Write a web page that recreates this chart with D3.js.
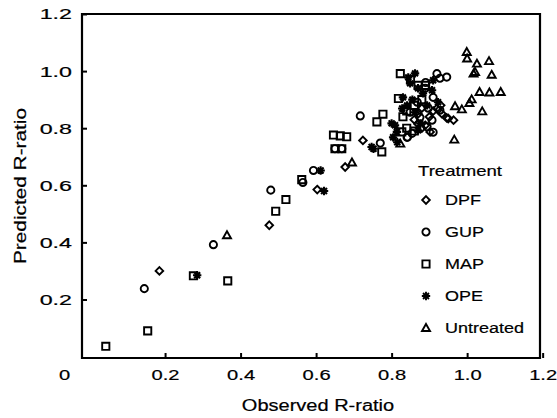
<!DOCTYPE html>
<html>
<head>
<meta charset="utf-8">
<script src="https://cdn.jsdelivr.net/npm/d3@7"></script>
<style>
  body { margin: 0; background: #fff; }
  text { font-family: "Liberation Sans", Arial, sans-serif; fill: #000; stroke: #000; stroke-width: 0.2px; }
</style>
</head>
<body>
<div id="chart"></div>
<script>
// data: [observed, predicted]
var treatments = ["DPF", "GUP", "MAP", "OPE", "Untreated"];

var dpf = [[0.185,0.30],[0.476,0.46],[0.603,0.585],[0.677,0.664],[0.724,0.757],
  [0.88,0.80],[0.902,0.787],[0.889,0.81],[0.86,0.83],[0.87,0.85],[0.90,0.84],
  [0.91,0.86],[0.92,0.869],[0.933,0.851],[0.946,0.836],[0.95,0.834],[0.964,0.828],
  [0.88,0.87],[0.93,0.88],[0.87,0.815]];

var gup = [[0.145,0.238],[0.328,0.392],[0.48,0.583],[0.593,0.652],[0.565,0.61],
  [0.65,0.728],[0.668,0.728],[0.717,0.843],[0.77,0.748],[0.842,0.769],
  [0.92,0.991],[0.946,0.979],[0.928,0.975],[0.889,0.94],[0.91,0.908],[0.897,0.87],
  [0.928,0.863],[0.875,0.838],[0.907,0.828],[0.868,0.891],[0.849,0.856],
  [0.894,0.805],[0.91,0.786],[0.854,0.782],[0.841,0.768],[0.89,0.96]];

var map = [[0.043,0.036],[0.154,0.09],[0.275,0.283],[0.366,0.265],[0.493,0.509],
  [0.52,0.55],[0.562,0.62],[0.646,0.776],[0.664,0.773],[0.681,0.77],[0.65,0.728],
  [0.668,0.728],[0.761,0.822],[0.777,0.849],[0.774,0.717],[0.823,0.991],[0.818,0.904],
  [0.827,0.787],[0.85,0.97],[0.87,0.95],[0.84,0.86],[0.86,0.88],[0.83,0.84],
  [0.88,0.90],[0.86,0.79],[0.84,0.80],[0.89,0.95]];

var ope = [[0.285,0.285],[0.621,0.58],[0.612,0.652],[0.752,0.728],[0.747,0.734],
  [0.80,0.817],[0.814,0.787],[0.862,0.992],[0.844,0.978],[0.849,0.957],[0.830,0.908],
  [0.828,0.869],[0.841,0.880],[0.809,0.810],[0.804,0.768],[0.815,0.751],[0.862,0.856],
  [0.876,0.817],[0.870,0.793],[0.894,0.880],[0.883,0.922],[0.907,0.933],[0.910,0.968],
  [0.923,0.891],[0.855,0.90],[0.87,0.94]];

var untreated = [[0.364,0.425],[0.695,0.68],[0.823,0.746],[0.966,0.76],
  [0.999,1.067],[1.0,1.044],[1.026,1.026],[1.021,0.997],[1.017,0.991],[1.058,1.035],
  [1.065,0.987],[1.033,0.927],[1.059,0.925],[1.089,0.927],[1.012,0.901],[1.006,0.888],
  [0.968,0.877],[0.986,0.866],[1.04,0.859]];

var xTicks = [0.2, 0.4, 0.6, 0.8, 1.0, 1.2];
var yTicks = [0.2, 0.4, 0.6, 0.8, 1.0, 1.2];

var series = [dpf, gup, map, ope, untreated];
var shapes = ["diamond", "circle", "square", "star", "triangle"];

var W = 557, H = 418;
var box = {left: 82, right: 540, top: 14, bottom: 358};

var svg = d3.select("#chart").append("svg")
  .attr("width", W).attr("height", H);

var x = d3.scaleLinear().domain([-0.02, 1.193]).range([box.left, box.right]);
var y = d3.scaleLinear().domain([-0.005, 1.2]).range([box.bottom, box.top]);

// symbol paths, centred on 0,0
function shapePath(t) {
  if (t == "circle") return "M3.6,0A3.6,3.6 0 1,1 -3.6,0A3.6,3.6 0 1,1 3.6,0Z";
  if (t == "square") return "M-3.6,-3.6H3.6V3.6H-3.6Z";
  if (t == "diamond") return "M0,-3.8L3.8,0L0,3.8L-3.8,0Z";
  if (t == "triangle") return "M0,-4L4,3H-4Z";
  // asterisk
  var r = 4.2, d = r * 0.7071;
  return "M0,-" + r + "V" + r + "M-" + r + ",0H" + r +
    "M-" + d + ",-" + d + "L" + d + "," + d + "M-" + d + "," + d + "L" + d + ",-" + d;
}

// frame
svg.append("path")
  .attr("d", "M" + box.left + "," + box.top + "H" + box.right + "V" + box.bottom +
    "H" + box.left + "Z")
  .attr("fill", "none").attr("stroke", "#000").attr("stroke-width", 2.2);

// scanned type is wide
var sx = 1.3, sy = 1.5;

// bottom axis
var xAxis = svg.append("g")
  .attr("transform", "translate(0," + box.bottom + ")")
  .call(d3.axisBottom(x).tickValues(xTicks).tickSize(-5).tickPadding(11)
    .tickFormat(d3.format(".1f")));
xAxis.select(".domain").remove();
xAxis.selectAll("line").attr("stroke-width", 2);
xAxis.selectAll("text").attr("font-size", 15.5).attr("font-family", null)
  .attr("transform", "scale(" + sx + ",1)");

// left axis
var yAxis = svg.append("g")
  .attr("transform", "translate(" + box.left + ",0)")
  .call(d3.axisLeft(y).tickValues(yTicks).tickSize(-5).tickPadding(10 / sy)
    .tickFormat(d3.format(".1f")));
yAxis.select(".domain").remove();
yAxis.selectAll("line").attr("stroke-width", 2);
yAxis.selectAll("text").attr("font-size", 15.5).attr("font-family", null)
  .attr("transform", "scale(" + sy + ",1)");

// origin label
svg.append("text")
  .attr("transform", "translate(" + (x(0) - 25) + "," + (box.bottom + 11) + ") scale(" + sx + ",1)")
  .attr("dy", "0.71em").attr("text-anchor", "middle").attr("font-size", 15.5)
  .text("0");

// axis titles
svg.append("text")
  .attr("transform", "translate(" + ((box.left + box.right) / 2 + 7) + ",411) scale(1.25,1)")
  .attr("text-anchor", "middle").attr("font-size", 16)
  .text("Observed R-ratio");

svg.append("text")
  .attr("transform", "translate(26,186) rotate(-90) scale(1.3,1)")
  .attr("text-anchor", "middle").attr("font-size", 16)
  .text("Predicted R-ratio");

// points
series.forEach(function(data, i) {
  svg.append("g").selectAll("path")
    .data(data)
    .enter().append("path")
      .attr("transform", function(d) { return "translate(" + x(d[0]) + "," + y(d[1]) + ")"; })
      .attr("d", shapePath(shapes[i]))
      .attr("fill", "none")
      .attr("stroke", "#000")
      .attr("stroke-width", shapes[i] == "star" ? 2.1 : 1.9);
});

// legend
var legend = svg.append("g");
legend.append("text")
  .attr("transform", "translate(418,176) scale(1.2,1)")
  .attr("font-size", 15.5)
  .text("Treatment");

var rows = legend.selectAll("g.row")
  .data(treatments)
  .enter().append("g")
    .attr("class", "row")
    .attr("transform", function(d, i) { return "translate(426," + (200 + i * 32) + ")"; });
rows.append("path")
  .attr("d", function(d, i) { return shapePath(shapes[i]); })
  .attr("fill", "none").attr("stroke", "#000")
  .attr("stroke-width", 1.9);
rows.append("text")
  .attr("transform", "translate(19,0) scale(1.2,1)")
  .attr("dy", "0.36em")
  .attr("font-size", 15)
  .text(function(d) { return d; });
</script>
</body>
</html>
